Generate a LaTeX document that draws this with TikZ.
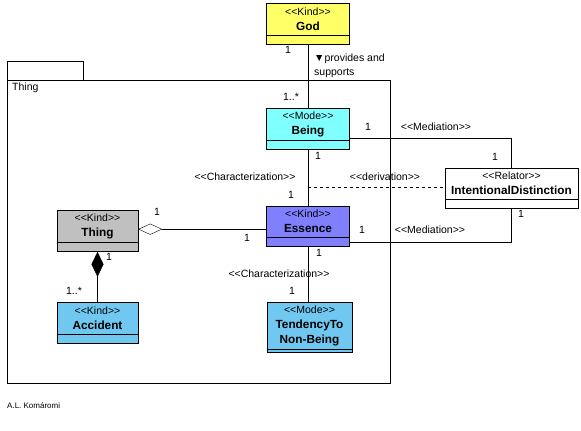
\documentclass[tikz,border=0pt]{standalone}
\usepackage{fontspec}
\setmainfont{Liberation Sans}
\usetikzlibrary{arrows.meta}
\definecolor{kindyellow}{HTML}{FFFF66}
\definecolor{modecyan}{HTML}{80FFFF}
\definecolor{kindviolet}{HTML}{8080FF}
\definecolor{kindgray}{HTML}{C0C0C0}
\definecolor{kindblue}{HTML}{70C8F0}
\newcommand\stereo[1]{<\kern0pt<#1>\kern0pt>}
\newcommand\cname[1]{{\fontsize{11.8}{15}\selectfont\bfseries #1}}
\tikzset{
  classhead/.style={draw, fill=#1, minimum width=83pt, minimum height=32pt, inner sep=1pt, align=center, anchor=north},
  classcomp/.style={draw, fill=#1, minimum width=83pt, minimum height=9pt, inner sep=0pt, anchor=north},
  mult/.style={inner sep=1pt},
  agg/.style={{Diamond[open,length=24pt,width=11pt]}-},
  comp/.style={{Diamond[length=25pt,width=12pt]}-},
}
\begin{document}
\begin{tikzpicture}[x=1pt, y=-1pt, font=\fontsize{10.5}{15}\selectfont]
  \useasboundingbox (0,0) rectangle (581,431);
  \draw (7,61) rectangle (83,80);
  \draw (7,80) rectangle (390,383);
  \node[mult, anchor=west] (pkg) at (11,88) {Thing};
  \node[mult, anchor=west, font=\fontsize{8}{10}\selectfont] (author) at (6,406) {A.L. Komáromi};

  \node[classhead=kindyellow] (god) at (308,3) {\stereo{Kind}\\\cname{God}};
  \node[classcomp=kindyellow] (god-c) at (god.south) {};
  \node[classhead=modecyan] (being) at (308,108) {\stereo{Mode}\\\cname{Being}};
  \node[classcomp=modecyan] (being-c) at (being.south) {};
  \node[classhead=white, minimum width=133pt, minimum height=31pt] (id) at (511.5,168) {\stereo{Relator}\\\cname{IntentionalDistinction}};
  \node[classcomp=white, minimum width=133pt] (id-c) at (id.south) {};
  \node[classhead=kindviolet, minimum height=31pt] (ess) at (308,206) {\stereo{Kind}\\\cname{Essence}};
  \node[classcomp=kindviolet] (ess-c) at (ess.south) {};
  \node[classhead=kindgray, minimum width=81pt] (thing) at (97.5,210) {\stereo{Kind}\\\cname{Thing}};
  \node[classcomp=kindgray, minimum width=81pt] (thing-c) at (thing.south) {};
  \node[classhead=kindblue, minimum width=81pt] (acc) at (97.5,302) {\stereo{Kind}\\\cname{Accident}};
  \node[classcomp=kindblue, minimum width=81pt] (acc-c) at (acc.south) {};
  \node[classhead=kindblue, minimum width=85pt, minimum height=47pt] (ten) at (309.5,302) {\stereo{Mode}\\\cname{TendencyTo}\\\cname{Non-Being}};
  \node[classcomp=kindblue, minimum width=85pt, minimum height=3pt] (ten-c) at (ten.south) {};

  \coordinate (drv) at (308,187);
  \draw (god-c.south) -- (being.north);
  \draw ([yshift=2pt]being.south east) -| (id.north);
  \draw (being-c.south) -- (ess.north);
  \draw[dashed] (drv) -- (drv -| id.west);
  \draw (ess-c.east) -| (id-c.south);
  \draw[agg] ([yshift=-3pt]thing.east) -- ([yshift=-3pt]thing.east -| ess.west);
  \draw[comp] (thing-c.south) -- (acc.north);
  \draw (ess-c.south) -- (ess-c.south |- ten.north);

  \node[mult] (m1) at (288,50) {1};
  \node[mult, anchor=west, align=left, font=\fontsize{10.5}{14}\selectfont] (prov) at (313,66) {▼provides and\\supports};
  \node[mult] (m2) at (291,97) {1..*};
  \node[mult] (m3) at (368,127) {1};
  \node[mult] (med1) at (436,127) {\stereo{Mediation}};
  \node[mult] (m4) at (495,157) {1};
  \node[mult] (m5) at (318,156) {1};
  \node[mult] (char1) at (245,177) {\stereo{Characterization}};
  \node[mult] (der) at (385,177) {\stereo{derivation}};
  \node[mult] (m6) at (291,195) {1};
  \node[mult] (m7) at (157,212) {1};
  \node[mult] (m8) at (247,238) {1};
  \node[mult] (m9) at (362,230) {1};
  \node[mult] (med2) at (430,230) {\stereo{Mediation}};
  \node[mult] (m10) at (521,214) {1};
  \node[mult] (m11) at (109,257) {1};
  \node[mult] (m12) at (74,291) {1..*};
  \node[mult] (m13) at (319,253) {1};
  \node[mult] (char2) at (279,274) {\stereo{Characterization}};
  \node[mult] (m14) at (292,291) {1};
\end{tikzpicture}
\end{document}
